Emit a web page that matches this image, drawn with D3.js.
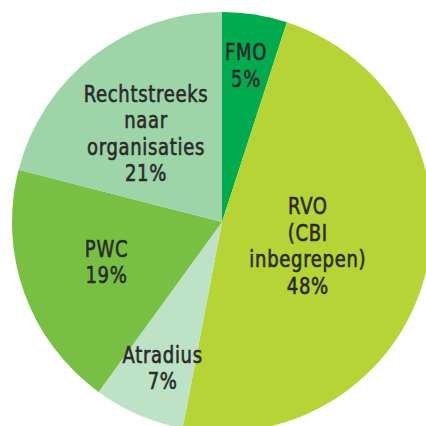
<!DOCTYPE html>
<html>
<head>
<meta charset="utf-8">
<script src="https://cdn.jsdelivr.net/npm/d3@7"></script>
<style>
  body { margin: 0; background: #fff; }
  svg text { font-family: "DejaVu Sans Condensed", "DejaVu Sans", sans-serif; fill: #2b2b2b; stroke: #2b2b2b; stroke-width: 0.6; }
</style>
</head>
<body>
<div id="chart"></div>
<script>
// data
let names = [["FMO"], ["RVO", "(CBI", "inbegrepen)"], ["Atradius"], ["PWC"], ["Rechtstreeks", "naar", "organisaties"]];
let shares = [5, 48, 7, 19, 21];
let colors = ["#00aa4f", "#b6d435", "#bde2c6", "#78c044", "#9dd4a8"];

// label placement (radius from centre, small angle nudge in degrees)
let labelRadius = [159, 89, 157, 122, 117];
let labelNudge = [-0.3, 0.9, -1.2, 1, -2.7];

let width = 426, height = 426;
let cx = 222, cy = 222, r = 210;
let lineH = 26.5;

let svg = d3.select("#chart").append("svg")
    .attr("width", width)
    .attr("height", height);

let g = svg.append("g").attr("transform", `translate(${cx},${cy})`);

let pie = d3.pie().sort(null).value(d => d);
let arcs = pie(shares);

let arc = d3.arc().innerRadius(0).outerRadius(r);

g.selectAll("path")
    .data(arcs)
    .enter()
    .append("path")
    .attr("d", arc)
    .attr("fill", (d, i) => colors[i]);

// condensed look: squeeze the text a bit horizontally
let labels = g.selectAll("g.label")
    .data(arcs)
    .enter()
    .append("g")
    .attr("class", "label")
    .attr("transform", (d, i) => {
        let a = (d.startAngle + d.endAngle) / 2 + labelNudge[i] * Math.PI / 180;
        let lr = labelRadius[i];
        return `translate(${lr * Math.sin(a)},${-lr * Math.cos(a)}) scale(0.87,1)`;
    });

labels.each(function (d, i) {
    let lines = names[i].concat([shares[i] + "%"]);
    let top = -(lines.length - 1) * lineH / 2 + 8.5;
    d3.select(this).selectAll("text")
        .data(lines)
        .enter()
        .append("text")
        .attr("text-anchor", "middle")
        .attr("y", (t, j) => top + j * lineH)
        .attr("font-size", 23)
        .attr("letter-spacing", 0.8)
        .text(t => t);
});
</script>
</body>
</html>
